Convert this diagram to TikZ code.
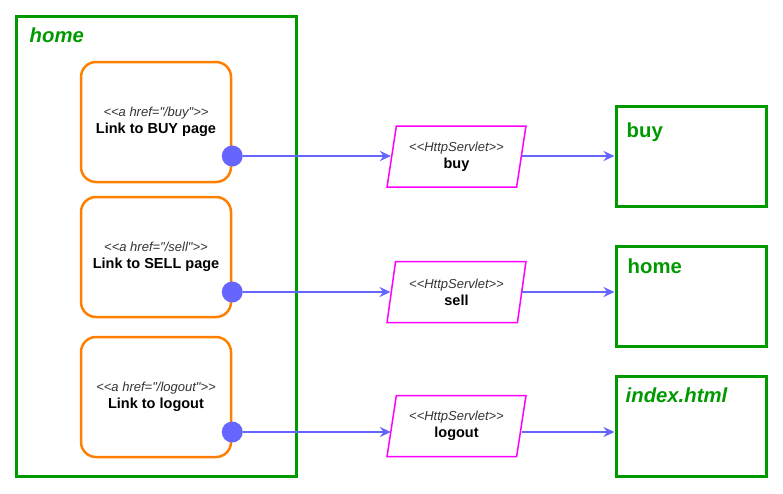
\documentclass[tikz,border=0pt]{standalone}
\usepackage{fontspec}
\setmainfont{Liberation Sans}[Ligatures=TeXOff]
\usetikzlibrary{positioning, arrows.meta, calc, shapes.geometric}
\definecolor{PageGreen}{RGB}{0,153,0}
\definecolor{LinkOrange}{RGB}{255,128,0}
\definecolor{ServletPink}{RGB}{255,0,255}
\definecolor{WireBlue}{RGB}{102,102,255}
\definecolor{StereoGray}{RGB}{51,51,51}
\newcommand{\stereo}[1]{{\fontsize{13}{17}\selectfont\mdseries\itshape\color{StereoGray}#1}}
\tikzstyle{page} = [draw=PageGreen, line width=3pt, rectangle, inner sep=0pt]
\tikzstyle{pagetitle} = [PageGreen, anchor=base west, inner sep=0pt, font=\fontsize{20.3}{23}\selectfont\bfseries]
\tikzstyle{link} = [draw=LinkOrange, line width=2.5pt, rounded corners=15pt, minimum width=150pt, minimum height=120pt, align=center, inner sep=0pt, font=\fontsize{14.5}{17}\selectfont\bfseries]
\tikzstyle{servlet} = [draw=ServletPink, line width=1.5pt, trapezium, trapezium left angle=76, trapezium right angle=104, trapezium stretches=true, minimum width=139pt, minimum height=61pt, align=center, inner sep=0pt, font=\fontsize{14.5}{17}\selectfont\bfseries]
\tikzstyle{dot} = [circle, fill=WireBlue, minimum size=21pt, inner sep=0pt]
\tikzstyle{wire} = [WireBlue, line width=1.8pt, -{Stealth[length=11pt, width=10pt]}]

\begin{document}
\begin{tikzpicture}[x=1pt, y=-1pt]
        \useasboundingbox (0,0) rectangle (783,493);

        % Home page
        \node[page, minimum width=280pt, minimum height=460pt] (homeframe) at (156,246) {};
        \node[pagetitle] (hometitle) at ($(homeframe.north west)+(15,28)$) {\itshape home};

        % Links
        \node[link] (buylink) at (156,122) {\stereo{<<a href="/buy">>}\\Link to BUY page};
        \node[link] (selllink) at (156,257) {\stereo{<<a href="/sell">>}\\Link to SELL page};
        \node[link] (logoutlink) at (156,397) {\stereo{<<a href="/logout">>}\\Link to logout};

        \node[dot] (buydot) at ($(buylink.east)+(0,34)$) {};
        \node[dot] (selldot) at ($(selllink.east)+(0,35)$) {};
        \node[dot] (logoutdot) at ($(logoutlink.east)+(0,35)$) {};

        % Servlets
        \node[servlet] (buyservlet) at (456.5,156.5) {\stereo{<<HttpServlet>>}\\buy};
        \node[servlet] (sellservlet) at (456.5,292) {\stereo{<<HttpServlet>>}\\sell};
        \node[servlet] (logoutservlet) at (456.5,426) {\stereo{<<HttpServlet>>}\\logout};

        % Target pages
        \node[page, minimum width=150pt, minimum height=100pt] (buypage) at (691,156) {};
        \node[pagetitle] at ($(buypage.north west)+(12,33)$) {buy};

        \node[page, minimum width=150pt, minimum height=100pt] (homepage) at (691,296) {};
        \node[pagetitle] at ($(homepage.north west)+(13,29)$) {home};

        \node[page, minimum width=150pt, minimum height=100pt] (indexpage) at (691,426) {};
        \node[pagetitle] at ($(indexpage.north west)+(11,28)$) {\itshape index.html};

        % Wires
        \draw[wire] (buydot.east) -- (buydot -| buyservlet.west);
        \draw[wire] (selldot.east) -- (selldot -| sellservlet.west);
        \draw[wire] (logoutdot.east) -- (logoutdot -| logoutservlet.west);

        \draw[wire] (buydot -| buyservlet.east) -- (buydot -| buypage.west);
        \draw[wire] (selldot -| sellservlet.east) -- (selldot -| homepage.west);
        \draw[wire] (logoutdot -| logoutservlet.east) -- (logoutdot -| indexpage.west);

      \end{tikzpicture}
\end{document}
